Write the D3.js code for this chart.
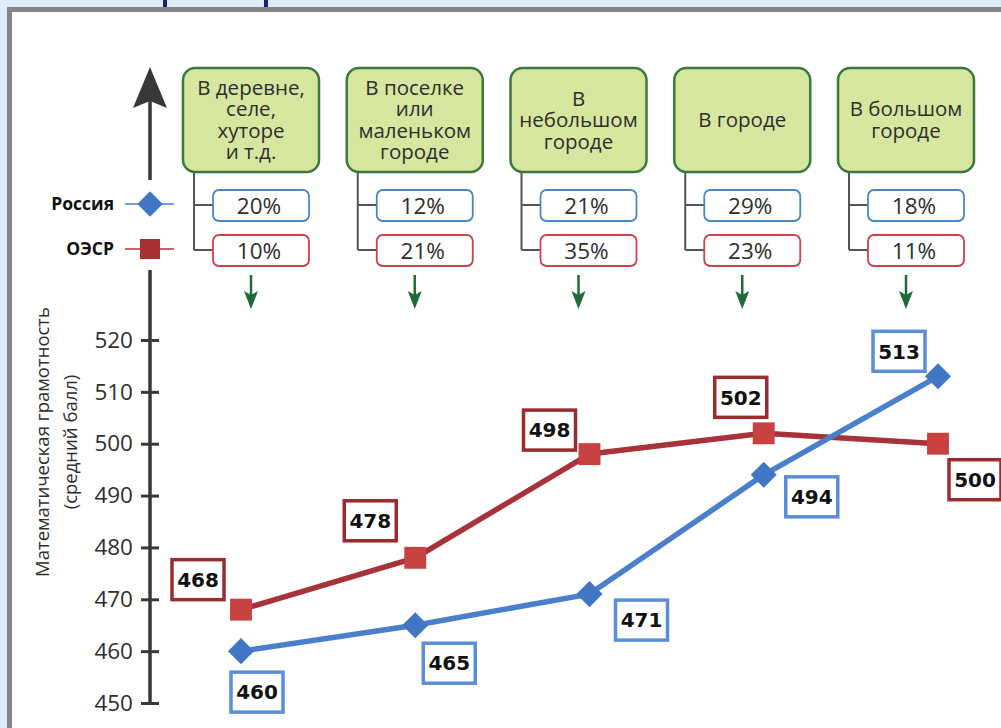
<!DOCTYPE html>
<html>
<head>
<meta charset="utf-8">
<script src="https://cdn.jsdelivr.net/npm/d3@7"></script>
<style>
  body { margin: 0; background: #dcecf9; }
  svg { display: block; }
</style>
</head>
<body>
<svg id="chart"></svg>
<script>
// categories (settlement type) and header lines
const categories = ["village", "settlement", "smalltown", "town", "bigcity"];
const headerLines = [
  ["В деревне,", "селе,", "хуторе", "и т.д."],
  ["В поселке", "или", "маленьком", "городе"],
  ["В", "небольшом", "городе"],
  ["В городе"],
  ["В большом", "городе"]
];
// share of students, %
const shareRussia = [20, 12, 21, 29, 18];
const shareOECD = [10, 21, 35, 23, 11];
// mean score
const scoreRussia = [460, 465, 471, 494, 513];
const scoreOECD = [468, 478, 498, 502, 500];
const yTicks = [450, 460, 470, 480, 490, 500, 510, 520];

// label placement (offset from the point, px)
const offRussia = [[16, 41], [34, 38], [52, 26], [48, 22], [-39, -25]];
const offOECD = [[-43, -30], [-45, -37], [-40, -24], [-23, -36], [37, 36]];

const width = 1001, height = 728;
const svg = d3.select('#chart').attr('width', width).attr('height', height);

const blueLine = '#4a80cb', blueMark = '#4076c3', blueBox = '#5a8fd8';
const redLine = '#a8323a', redMark = '#c94242', redBox = '#992c2e';
const font = "'Open Sans', 'DejaVu Sans', sans-serif";

// background panel
svg.append('rect').attr('width', width).attr('height', height).attr('fill', '#dcecf9');
svg.append('rect').attr('x', 163).attr('y', 0).attr('width', 4).attr('height', 7).attr('fill', '#1c1f6e');
svg.append('rect').attr('x', 264).attr('y', 0).attr('width', 4).attr('height', 7).attr('fill', '#1c1f6e');
svg.append('rect').attr('x', 7).attr('y', 7).attr('width', width).attr('height', height)
  .attr('fill', '#858585');
svg.append('rect').attr('x', 12).attr('y', 12).attr('width', width).attr('height', height)
  .attr('fill', '#ffffff');

const x = d3.scalePoint().domain(categories).range([241, 938]);
const xHead = d3.scalePoint().domain(categories).range([251, 906]);
const y = d3.scaleLinear().domain([450, 520]).range([703, 340]);

// y axis with arrow, broken by the legend
const axisCol = '#383838';
svg.append('line').attr('x1', 150).attr('x2', 150).attr('y1', 95).attr('y2', 180)
  .attr('stroke', axisCol).attr('stroke-width', 3.5);
svg.append('line').attr('x1', 150).attr('x2', 150).attr('y1', 270).attr('y2', y(450))
  .attr('stroke', axisCol).attr('stroke-width', 3.5);
svg.append('path').attr('d', 'M150,67 L167,108 L150,101 L133,108 Z').attr('fill', axisCol);

const yAxis = svg.append('g')
  .attr('transform', 'translate(150,0)')
  .call(d3.axisLeft(y).tickValues(yTicks).tickSize(9).tickPadding(8));
yAxis.select('.domain').remove();
yAxis.selectAll('.tick line').attr('x1', 9).attr('stroke', axisCol).attr('stroke-width', 3);
yAxis.selectAll('.tick text')
  .attr('font-family', font).attr('font-size', 22.5).attr('fill', '#2e2e2e');

// axis title
const title = svg.append('text')
  .attr('transform', 'translate(0,442) rotate(-90)')
  .attr('text-anchor', 'middle').attr('font-family', font).attr('font-size', 18.5)
  .attr('fill', '#2e2e2e');
title.append('tspan').attr('x', 0).attr('y', 49).text('Математическая грамотность');
title.append('tspan').attr('x', 0).attr('y', 77).text('(средний балл)');

// legend
const legendRows = [
  { name: 'Россия', y: 204, color: blueLine, mark: blueMark, shape: 'diamond' },
  { name: 'ОЭСР', y: 249, color: redLine, mark: '#a83030', shape: 'square' }
];
legendRows.forEach(r => {
  svg.append('text').attr('x', 114).attr('y', r.y).attr('dy', '0.35em')
    .attr('text-anchor', 'end').attr('font-family', font).attr('font-weight', 700)
    .attr('font-size', 17.5).attr('fill', '#111').text(r.name);
  svg.append('line').attr('x1', 125).attr('x2', 174).attr('y1', r.y).attr('y2', r.y)
    .attr('stroke', r.color).attr('stroke-width', 1.5);
  if (r.shape === 'diamond') {
    svg.append('path').attr('d', d3.symbol(d3.symbolSquare, 320)())
      .attr('transform', `translate(150,${r.y}) rotate(45)`).attr('fill', r.mark);
  } else {
    svg.append('path').attr('d', d3.symbol(d3.symbolSquare, 400)())
      .attr('transform', `translate(150,${r.y})`).attr('fill', r.mark);
  }
});

// header boxes
const head = svg.append('g').selectAll('g')
  .data(categories)
  .join('g')
  .attr('transform', d => `translate(${xHead(d)},0)`);

head.append('path')
  .attr('d', 'M-57,172 V250 M-57,205 H-38 M-57,250 H-38')
  .attr('fill', 'none').attr('stroke', '#555').attr('stroke-width', 2);

head.append('rect')
  .attr('x', -68).attr('y', 68).attr('width', 136).attr('height', 104).attr('rx', 12)
  .attr('fill', '#d6e69f').attr('stroke', '#3b7a3e').attr('stroke-width', 2.5);

head.append('text')
  .attr('text-anchor', 'middle').attr('font-family', font).attr('font-size', 20.5)
  .attr('fill', '#2e2e2e')
  .selectAll('tspan')
  .data((d, i) => headerLines[i].map((t, j, a) => ({ t, dy: (j - (a.length - 1) / 2) * 21.5 })))
  .join('tspan')
  .attr('x', 0).attr('y', t => 120 + t.dy).attr('dy', '0.35em')
  .text(t => t.t);

head.append('rect')
  .attr('x', -38).attr('y', 190).attr('width', 96).attr('height', 31).attr('rx', 6)
  .attr('fill', '#fff').attr('stroke', '#4a86c8').attr('stroke-width', 1.8);
head.append('rect')
  .attr('x', -38).attr('y', 235).attr('width', 96).attr('height', 31).attr('rx', 6)
  .attr('fill', '#fff').attr('stroke', '#c9424c').attr('stroke-width', 1.8);
head.append('text')
  .attr('x', 8).attr('y', 206).attr('dy', '0.35em')
  .attr('text-anchor', 'middle').attr('font-family', font).attr('font-size', 22.5).attr('fill', '#2e2e2e')
  .text((d, i) => shareRussia[i] + '%');
head.append('text')
  .attr('x', 8).attr('y', 251).attr('dy', '0.35em')
  .attr('text-anchor', 'middle').attr('font-family', font).attr('font-size', 22.5).attr('fill', '#2e2e2e')
  .text((d, i) => shareOECD[i] + '%');

// green arrows
head.append('line').attr('x1', 0).attr('x2', 0).attr('y1', 275).attr('y2', 300)
  .attr('stroke', '#1f6b37').attr('stroke-width', 2.5);
head.append('path').attr('d', 'M-7,291 L0,295 L7,291 L0,309 Z').attr('fill', '#1f6b37');

// series
const series = [
  { values: scoreOECD, off: offOECD, line: redLine, mark: redMark, box: redBox, shape: 'square' },
  { values: scoreRussia, off: offRussia, line: blueLine, mark: blueMark, box: blueBox, shape: 'diamond' }
];

const line = d3.line().x(d => x(d.cat)).y(d => y(d.value));

series.forEach(s => {
  const pts = categories.map((c, i) => ({ cat: c, value: s.values[i], off: s.off[i] }));
  svg.append('path').datum(pts).attr('d', line)
    .attr('fill', 'none').attr('stroke', s.line).attr('stroke-width', 5.5)
    .attr('stroke-linejoin', 'round');
  svg.append('g').selectAll('path').data(pts).join('path')
    .attr('d', d3.symbol(d3.symbolSquare, s.shape === 'diamond' ? 340 : 480)())
    .attr('transform', d => `translate(${x(d.cat)},${y(d.value)})` + (s.shape === 'diamond' ? ' rotate(45)' : ''))
    .attr('fill', s.mark);
});

series.forEach(s => {
  const pts = categories.map((c, i) => ({ cat: c, value: s.values[i], off: s.off[i] }));
  const lab = svg.append('g').selectAll('g').data(pts).join('g')
    .attr('transform', d => `translate(${x(d.cat) + d.off[0]},${y(d.value) + d.off[1]})`);
  lab.append('rect').attr('x', -26).attr('y', -20).attr('width', 52).attr('height', 40)
    .attr('fill', '#fff').attr('stroke', s.box).attr('stroke-width', 3.5);
  lab.append('text').attr('text-anchor', 'middle').attr('dy', '0.36em')
    .attr('font-family', "'DejaVu Sans', sans-serif").attr('font-weight', 700)
    .attr('font-size', 20).attr('fill', '#111')
    .text(d => d.value);
});
</script>
</body>
</html>
